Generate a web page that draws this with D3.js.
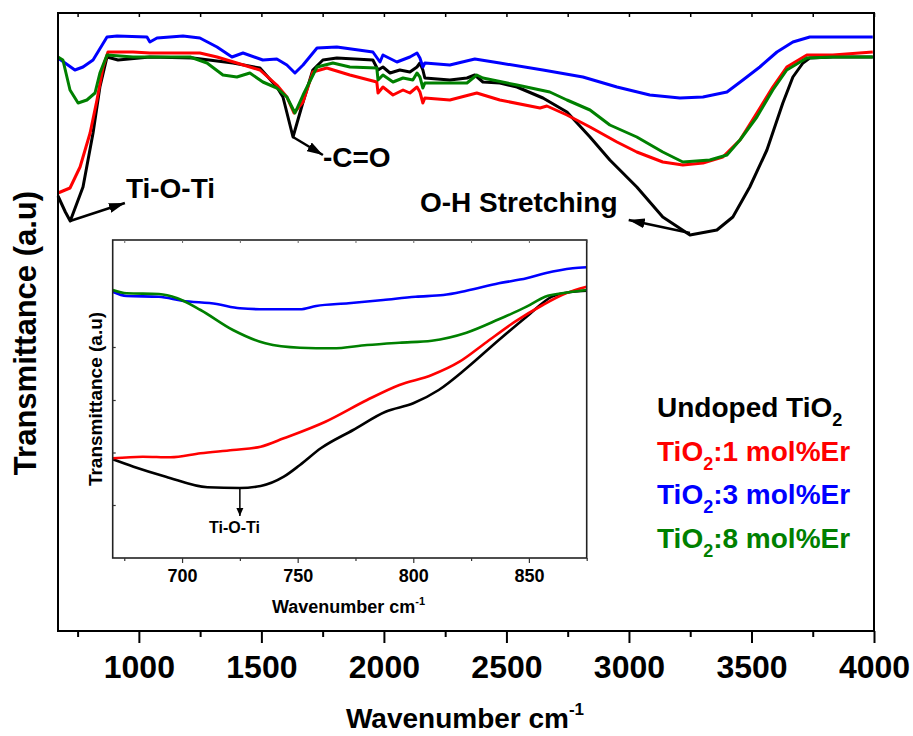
<!DOCTYPE html>
<html><head><meta charset="utf-8">
<script src="https://cdn.jsdelivr.net/npm/d3@7"></script>
<style>
html,body{margin:0;padding:0;background:#fff;}
svg{display:block;font-family:"Liberation Sans",Arial,Helvetica,sans-serif;font-weight:bold;}
</style></head>
<body><svg id="chart" width="913" height="736"></svg>
<script>
// ---------- DATA (main spectrum: [wavenumber cm-1, transmittance a.u.]) ----------
const undoped = [[670,435],[700,419],[720,410],[772,444],[813,498],[841,544],[870,574],[915,571],[1045,574],[1221,573],[1384,568],[1494,563],[1563,544],[1588,534],[1629,494],[1670,529],[1710,561],[1751,571],[1808,573],[1955,571],[1976,561],[1996,564],[2025,558],[2065,561],[2106,559],[2135,564],[2147,568],[2159,561],[2167,553],[2269,551],[2339,553],[2371,556],[2404,549],[2473,548],[2543,544],[2649,533],[2747,519],[2841,494],[2922,471],[3032,444],[3138,414],[3249,396],[3359,401],[3424,414],[3493,444],[3563,481],[3628,528],[3669,554],[3710,568],[3738,573],[3832,574],[3995,574]];
const er1 = [[670,438],[719,443],[760,464],[801,498],[829,531],[854,564],[874,579],[976,579],[1045,578],[1249,578],[1319,574],[1400,568],[1494,561],[1563,546],[1604,534],[1633,518],[1670,529],[1710,559],[1767,563],[1861,556],[1971,549],[1976,538],[1996,544],[2037,536],[2078,541],[2106,538],[2135,544],[2147,539],[2159,528],[2167,533],[2269,531],[2379,538],[2473,531],[2637,523],[2665,525],[2747,516],[2841,504],[2951,489],[3032,479],[3138,469],[3220,466],[3302,468],[3383,474],[3453,491],[3522,518],[3587,544],[3644,564],[3726,576],[3832,576],[3995,579]];
const er3 = [[670,573],[739,561],[772,564],[813,571],[870,594],[911,595],[1033,594],[1045,589],[1074,593],[1180,595],[1249,593],[1319,584],[1380,574],[1425,578],[1506,571],[1563,572],[1604,566],[1637,558],[1670,566],[1727,583],[1808,584],[1955,579],[1984,569],[1996,576],[2053,569],[2106,574],[2135,578],[2147,573],[2159,564],[2167,568],[2269,566],[2371,572],[2473,568],[2649,561],[2812,554],[2951,544],[3085,536],[3208,533],[3302,534],[3400,539],[3465,551],[3534,564],[3604,579],[3669,589],[3738,594],[3832,594],[3995,594]];
const er8 = [[670,574],[690,571],[719,541],[752,528],[788,531],[821,538],[841,558],[870,576],[976,574],[1209,574],[1278,568],[1343,556],[1400,554],[1453,558],[1506,549],[1563,543],[1604,534],[1637,518],[1670,536],[1727,564],[1792,568],[1861,564],[1971,563],[1976,551],[1996,556],[2037,549],[2078,553],[2118,551],[2135,558],[2147,554],[2159,543],[2167,548],[2269,548],[2339,548],[2379,556],[2404,553],[2543,546],[2677,539],[2747,531],[2841,521],[2922,506],[3032,494],[3138,479],[3220,469],[3330,471],[3400,476],[3453,491],[3522,514],[3587,541],[3644,561],[3726,573],[3832,574],[3995,574]];

// inset (zoom 670-875 cm-1)
const insetUndoped = [[670,98.7],[679,91.3],[693,81.3],[711,70.7],[725,70],[734,72],[744,81.3],[751,93],[760,109.7],[774,128],[788,146.3],[800,154.7],[811,168],[823,189.7],[837,218],[849,241.3],[860,261.3],[869,266.3],[875,267.3]];
const insetEr1 = [[670,99.7],[683,101.3],[695,100.7],[708,104.7],[722,108],[734,111.3],[744,119.7],[762,136.3],[780,158],[794,173],[808,183],[820,196.3],[831,214.7],[844,236.3],[856,253],[866,264.7],[875,271.3]];
const insetEr3 = [[670,266.3],[676,262],[690,261.3],[700,257.3],[715,254],[725,249.7],[736,248.7],[751,248.7],[758,252],[772,254.7],[787,258],[801,261.3],[813,263],[823,267.3],[837,274.7],[849,279.7],[857,284.7],[869,289.7],[875,290.7]];
const insetEr8 = [[670,268],[676,264.7],[690,264],[698,259.7],[708,248],[722,228],[736,214.7],[751,210.3],[765,209.7],[780,213],[794,215.3],[808,217.3],[823,225.3],[837,238.7],[849,251.3],[857,261.3],[866,265.3],[875,268]];

const seriesNames = ["Undoped TiO2","TiO2:1 mol%Er","TiO2:3 mol%Er","TiO2:8 mol%Er"];
const seriesColors = ["#000000","#ff0000","#0000ff","#008000"];
const mainSeries = [undoped, er1, er3, er8];
const insetSeries = [insetUndoped, insetEr1, insetEr3, insetEr8];

const mainMajorTicks = [1000,1500,2000,2500,3000,3500,4000];
const mainMinorTicks = [750,1250,1750,2250,2750,3250,3750];
const insetMajorTicks = [700,750,800,850];
const insetMinorTicks = [675,725,775,825,875];
const insetYTicks = [53,105.5,158,211];

const legendRows = [
  {pre:"Undoped TiO", sub:"2", post:""},
  {pre:"TiO", sub:"2", post:":1 mol%Er"},
  {pre:"TiO", sub:"2", post:":3 mol%Er"},
  {pre:"TiO", sub:"2", post:":8 mol%Er"}
];

// annotations in data coordinates: tail (on curve) -> head (near text)
const annotations = [
  {text:"Ti-O-Ti", tx:947, ty:433, from:[719,410], to:[943,428]},
  {text:"-C=O", tx:1751, ty:464, from:[1629,494], to:[1751,476]},
  {text:"O-H Stretching", tx:2147, ty:419, from:[3249,398], to:[2999,411]}
];

// ---------- DRAW ----------
const svg = d3.select("#chart");
const x = d3.scaleLinear().domain([670,4000]).range([58,874]);
const y = d3.scaleLinear().domain([0,618]).range([631,13]);

svg.append("defs").append("marker")
  .attr("id","arrow").attr("viewBox","0 0 16 10").attr("refX",16).attr("refY",5)
  .attr("markerWidth",16).attr("markerHeight",10).attr("markerUnits","userSpaceOnUse")
  .attr("orient","auto")
  .append("path").attr("d","M0,0 L16,5 L0,10 Z").attr("fill","#000");
svg.select("defs").append("marker")
  .attr("id","arrowS").attr("viewBox","0 0 8 8").attr("refX",8).attr("refY",4)
  .attr("markerWidth",8).attr("markerHeight",8).attr("markerUnits","userSpaceOnUse")
  .attr("orient","auto")
  .append("path").attr("d","M0,0.5 L8,4 L0,7.5 Z").attr("fill","#000");

const line = d3.line().x(d=>x(d[0])).y(d=>y(d[1]));
mainSeries.forEach((s,i)=>{
  svg.append("path").datum(s).attr("d",line).attr("fill","none")
    .attr("stroke",seriesColors[i]).attr("stroke-width",3).attr("stroke-linejoin","round");
});

// frame
svg.append("rect").attr("x",x(670)).attr("y",y(618)).attr("width",x(4000)-x(670)).attr("height",y(0)-y(618))
  .attr("fill","none").attr("stroke","#000").attr("stroke-width",2);

// bottom axis
const gx = svg.append("g").attr("transform",`translate(0,${y(0)})`)
  .call(d3.axisBottom(x).tickValues(mainMajorTicks).tickSize(12).tickPadding(12).tickFormat(d3.format("d")));
gx.select(".domain").remove();
gx.selectAll(".tick line").attr("stroke","#000").attr("stroke-width",2);
gx.selectAll(".tick text").attr("font-size",32).attr("font-weight","bold").attr("fill","#000")
  .attr("font-family","'Liberation Sans',Arial,sans-serif");
const gxm = svg.append("g").attr("transform",`translate(0,${y(0)})`)
  .call(d3.axisBottom(x).tickValues(mainMinorTicks).tickSize(6).tickFormat(""));
gxm.select(".domain").remove();
gxm.selectAll(".tick line").attr("stroke","#000").attr("stroke-width",2);
const gxt = svg.append("g").attr("transform",`translate(0,${y(618)})`)
  .call(d3.axisTop(x).tickValues(mainMajorTicks.concat(mainMinorTicks)).tickSize(-4).tickFormat(""));
gxt.select(".domain").remove();
gxt.selectAll(".tick line").attr("stroke","#000").attr("stroke-width",1.5);

// axis titles
const xt = svg.append("text").attr("x",465).attr("y",728).attr("text-anchor","middle")
  .attr("font-size",28).attr("fill","#000");
xt.append("tspan").text("Wavenumber cm");
xt.append("tspan").text("-1").attr("font-size",17).attr("dy",-13);
svg.append("text").attr("transform","translate(36,333) rotate(-90)").attr("text-anchor","middle")
  .attr("font-size",31).attr("fill","#000").text("Transmittance (a.u)");

// annotations
annotations.forEach(a=>{
  svg.append("line").attr("x1",x(a.from[0])).attr("y1",y(a.from[1]))
    .attr("x2",x(a.to[0])).attr("y2",y(a.to[1]))
    .attr("stroke","#000").attr("stroke-width",2.5).attr("marker-end","url(#arrow)");
  svg.append("text").attr("x",x(a.tx)).attr("y",y(a.ty)).attr("font-size",28).attr("fill","#000").text(a.text);
});

// legend
legendRows.forEach((r,i)=>{
  const t = svg.append("text").attr("x",657).attr("y",417+i*43.5).attr("font-size",28).attr("fill",seriesColors[i]);
  t.append("tspan").text(r.pre);
  t.append("tspan").text(r.sub).attr("font-size",18).attr("dy",9);
  if(r.post) t.append("tspan").text(r.post).attr("dy",-9);
});

// ---------- INSET ----------
const xi = d3.scaleLinear().domain([670,875]).range([112.7,586.7]);
const yi = d3.scaleLinear().domain([0,318]).range([558,240]);
svg.append("rect").attr("x",xi(670)).attr("y",yi(318)).attr("width",xi(875)-xi(670)).attr("height",yi(0)-yi(318))
  .attr("fill","#fff").attr("stroke","none");
const lineI = d3.line().x(d=>xi(d[0])).y(d=>yi(d[1])).curve(d3.curveMonotoneX);
insetSeries.forEach((s,i)=>{
  svg.append("path").datum(s).attr("d",lineI).attr("fill","none")
    .attr("stroke",seriesColors[i]).attr("stroke-width",2.6).attr("stroke-linejoin","round");
});
svg.append("rect").attr("x",xi(670)).attr("y",yi(318)).attr("width",xi(875)-xi(670)).attr("height",yi(0)-yi(318))
  .attr("fill","none").attr("stroke","#222").attr("stroke-width",1.6);
const gi = svg.append("g").attr("transform",`translate(0,${yi(0)})`)
  .call(d3.axisBottom(xi).tickValues(insetMajorTicks).tickSize(5).tickPadding(6).tickFormat(d3.format("d")));
gi.select(".domain").remove();
gi.selectAll(".tick line").attr("stroke","#333").attr("stroke-width",1.2);
gi.selectAll(".tick text").attr("font-size",18).attr("font-weight","bold").attr("fill","#000")
  .attr("font-family","'Liberation Sans',Arial,sans-serif");
const gim = svg.append("g").attr("transform",`translate(0,${yi(0)})`)
  .call(d3.axisBottom(xi).tickValues(insetMinorTicks).tickSize(3).tickFormat(""));
gim.select(".domain").remove();
gim.selectAll(".tick line").attr("stroke","#333").attr("stroke-width",1.2);
const git = svg.append("g").attr("transform",`translate(0,${yi(318)})`)
  .call(d3.axisTop(xi).tickValues(insetMajorTicks.concat(insetMinorTicks)).tickSize(-3).tickFormat(""));
git.select(".domain").remove();
git.selectAll(".tick line").attr("stroke","#666").attr("stroke-width",1);
const giy = svg.append("g").attr("transform",`translate(${xi(670)},0)`)
  .call(d3.axisLeft(yi).tickValues(insetYTicks).tickSize(-3).tickFormat(""));
giy.select(".domain").remove();
giy.selectAll(".tick line").attr("stroke","#333").attr("stroke-width",1.2);

const xit = svg.append("text").attr("x",xi(772)).attr("y",613).attr("text-anchor","middle")
  .attr("font-size",18).attr("fill","#000");
xit.append("tspan").text("Wavenumber cm");
xit.append("tspan").text("-1").attr("font-size",11).attr("dy",-8);
svg.append("text").attr("transform","translate(102,399) rotate(-90)").attr("text-anchor","middle")
  .attr("font-size",19).attr("fill","#000").text("Transmittance (a.u)");

// inset annotation
svg.append("line").attr("x1",xi(725)).attr("y1",yi(70)).attr("x2",xi(725)).attr("y2",yi(42))
  .attr("stroke","#000").attr("stroke-width",1.5).attr("marker-end","url(#arrowS)");
svg.append("text").attr("x",xi(722.7)).attr("y",yi(25)).attr("text-anchor","middle")
  .attr("font-size",16).attr("fill","#000").text("Ti-O-Ti");
</script></body></html>
